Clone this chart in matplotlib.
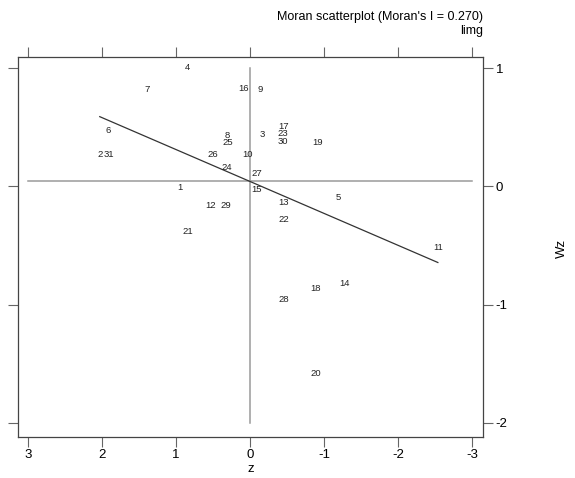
"""Moran scatterplot of limg (mirrored layout: z decreases to the right, Wz axis on the right)."""
import matplotlib
matplotlib.use("Agg")
import matplotlib.pyplot as plt

plt.rcParams["font.family"] = ["Liberation Sans", "DejaVu Sans"]

# point ids, standardised value z and its spatial lag Wz
ids = [str(i) for i in range(1, 32)]
z = [0.95, 2.03, -0.16, 0.84, -1.19, 1.92, 1.39, 0.30, -0.14, 0.03,
     -2.54, 0.53, -0.45, -1.28, -0.09, 0.09, -0.45, -0.88, -0.92, -0.89,
     0.84, -0.46, -0.45, 0.31, 0.30, 0.50, -0.09, -0.46, 0.32, -0.45, 1.91]
wz = [-0.01, 0.27, 0.44, 1.01, -0.09, 0.47, 0.82, 0.43, 0.82, 0.27,
      -0.52, -0.16, -0.14, -0.82, -0.03, 0.83, 0.51, -0.86, 0.37, -1.58,
      -0.38, -0.28, 0.45, 0.16, 0.37, 0.27, 0.11, -0.96, -0.16, 0.38, 0.27]

MORAN_I = 0.270
MEAN_Z, MEAN_WZ = 0.0, 0.042
XTICKS = [3, 2, 1, 0, -1, -2, -3]
YTICKS = [1, 0, -1, -2]

fig = plt.figure(figsize=(5.75, 4.78), dpi=100)
ax = fig.add_axes([0.0313, 0.0858, 0.8087, 0.795])

# reference lines at the means, spanning the tick range
ax.plot([min(XTICKS), max(XTICKS)], [MEAN_WZ, MEAN_WZ], color="#9a9a9a", lw=1.1)
ax.plot([MEAN_Z, MEAN_Z], [min(YTICKS), max(YTICKS)], color="#9a9a9a", lw=1.1)

# regression line (slope = Moran's I) over the range of z
x0, x1 = min(z), max(z)
ax.plot([x0, x1], [MEAN_WZ + MORAN_I * (x0 - MEAN_Z), MEAN_WZ + MORAN_I * (x1 - MEAN_Z)],
        color="#333333", lw=0.9)

for lab, xv, yv in zip(ids, z, wz):
    ax.text(xv, yv, lab, ha="center", va="center", fontsize=6.8, color="#222222")

ax.set_xlim(3.135, -3.15)
ax.set_ylim(-2.12, 1.095)
ax.set_xticks(XTICKS)
ax.set_xticklabels([str(t) for t in XTICKS])
ax.set_yticks(YTICKS)
ax.set_yticklabels([str(t) for t in YTICKS])
ax.tick_params(axis="x", top=True, bottom=True, labeltop=False, direction="out",
               length=7, width=0.8, color="#666666", labelsize=9.5, pad=2)
ax.tick_params(axis="y", left=True, right=True, labelleft=False, labelright=True,
               direction="out", length=7, width=0.8, color="#666666", labelsize=9.5, pad=2)
for s in ax.spines.values():
    s.set_color("#444444")
    s.set_linewidth(0.9)

ax.set_xlabel("z", fontsize=9.5, labelpad=1)
fig.text(0.977, 0.48, "Wz", rotation=90, ha="center", va="center", fontsize=9.5)

fig.text(0.84, 0.965, "Moran scatterplot (Moran's I = 0.270)", ha="right", va="center", fontsize=9)
fig.text(0.84, 0.935, "limg", ha="right", va="center", fontsize=9)

fig.savefig("out.png", dpi=100)
